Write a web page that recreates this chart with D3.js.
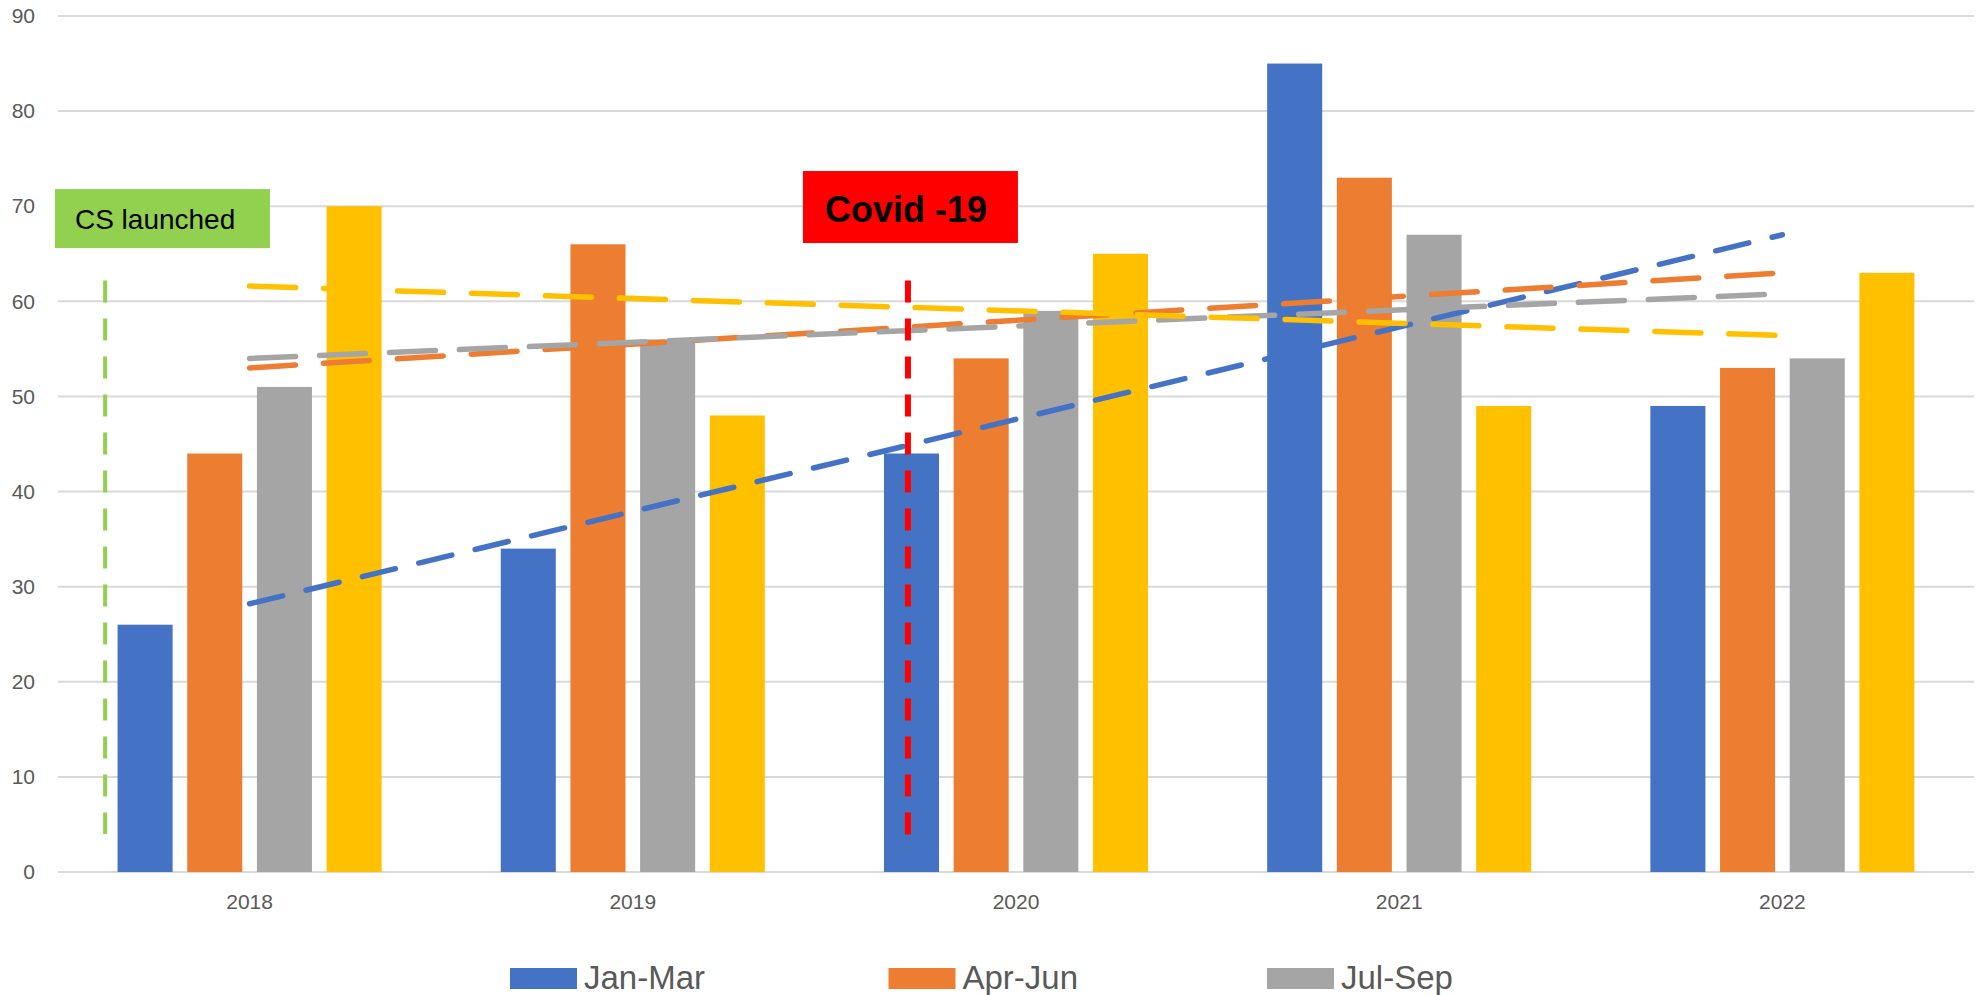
<!DOCTYPE html>
<html>
  <head>
    <meta charset="utf-8">
    <title>Quarterly chart</title>
    <script type="text/javascript" src="https://d3js.org/d3.v7.min.js"></script>
    <style>
      body { margin: 0; background: #fff; }
      text { font-family: "Liberation Sans", Arial, sans-serif; }
    </style>
  </head>

  <body>
    <script>

    var years   = ["2018", "2019", "2020", "2021", "2022"];
    var quarters = ["Jan-Mar", "Apr-Jun", "Jul-Sep", "Oct-Dec"];
    var janMar  = [26, 34, 44, 85, 49];
    var aprJun  = [44, 66, 54, 73, 53];
    var julSep  = [51, 56, 59, 67, 54];
    var octDec  = [70, 48, 65, 49, 63];
    var yTicks  = [0, 10, 20, 30, 40, 50, 60, 70, 80, 90];
    var legendLabels = ["Jan-Mar", "Apr-Jun", "Jul-Sep"];

    var colors = ["#4472c4", "#ed7d31", "#a5a5a5", "#ffc000"];
    var seriesValues = [janMar, aprJun, julSep, octDec];

    var width = 1980, height = 995;
    var plotLeft = 58, plotRight = 1974, plotTop = 16, plotBottom = 872;   // plot area

    var svg = d3.select("body").append("svg")
                .attr("width", width)
                .attr("height", height);

    var x0 = d3.scaleBand().domain(years).range([plotLeft, plotRight]).padding(0);
    var x1 = d3.scaleBand().domain(quarters)
               .range([0, x0.bandwidth()])
               .paddingInner(0.21)
               .paddingOuter(0.855);
    var y = d3.scaleLinear().domain([0, 90]).range([plotBottom, plotTop]);
    // continuous position along the categories (0 = centre of 2018)
    var xi = d3.scaleLinear().domain([0, 1])
               .range([x0(years[0]) + x0.bandwidth() / 2, x0(years[1]) + x0.bandwidth() / 2]);

    // gridlines
    svg.append("g")
       .selectAll("line")
       .data(yTicks)
       .enter().append("line")
         .attr("x1", plotLeft).attr("x2", plotRight)
         .attr("y1", function(d) { return y(d); })
         .attr("y2", function(d) { return y(d); })
         .attr("stroke", "#d9d9d9")
         .attr("stroke-width", 2);

    // y axis labels
    var yAxis = d3.axisLeft(y).tickValues(yTicks).tickSize(0).tickPadding(23);
    var gy = svg.append("g").attr("transform", "translate(" + plotLeft + ",0)").call(yAxis);
    gy.select(".domain").remove();
    gy.selectAll("text").attr("font-size", 21).attr("fill", "#595959")
      .attr("font-family", "Liberation Sans, Arial, sans-serif");

    // x axis labels
    var xAxis = d3.axisBottom(x0).tickSize(0).tickPadding(22);
    var gx = svg.append("g").attr("transform", "translate(0," + plotBottom + ")").call(xAxis);
    gx.select(".domain").remove();
    gx.selectAll("text").attr("font-size", 21).attr("fill", "#595959")
      .attr("font-family", "Liberation Sans, Arial, sans-serif");

    // bars
    var groups = svg.append("g")
       .selectAll("g")
       .data(years)
       .enter().append("g")
         .attr("transform", function(d) { return "translate(" + x0(d) + ",0)"; });

    groups.selectAll("rect")
       .data(function(d, i) { return quarters.map(function(q, k) { return {q: q, k: k, v: seriesValues[k][i]}; }); })
       .enter().append("rect")
         .attr("x", function(d) { return x1(d.q); })
         .attr("width", x1.bandwidth())
         .attr("y", function(d) { return y(d.v); })
         .attr("height", function(d) { return y(0) - y(d.v); })
         .attr("fill", function(d) { return colors[d.k]; });

    // linear trendlines (least squares over category index)
    function trend(vals) {
      var n = vals.length, mx = (n - 1) / 2, my = d3.mean(vals);
      var sxy = d3.sum(vals, function(v, i) { return (i - mx) * (v - my); });
      var sxx = d3.sum(vals, function(v, i) { return (i - mx) * (i - mx); });
      var b = sxy / sxx, a = my - b * mx;
      return [[0, a], [n - 1, a + b * (n - 1)]];
    }
    var dashes = ["34,24", "46,28", "46,24", "46,28"];
    var line = d3.line().x(function(d) { return xi(d[0]); }).y(function(d) { return y(d[1]); });

    svg.append("g")
       .selectAll("path")
       .data(seriesValues)
       .enter().append("path")
         .attr("d", function(d) { return line(trend(d)); })
         .attr("fill", "none")
         .attr("stroke", function(d, i) { return colors[i]; })
         .attr("stroke-width", 5.5)
         .attr("stroke-linecap", "round")
         .attr("stroke-dasharray", function(d, i) { return dashes[i]; });

    // event markers
    var events = [
      {label: "CS launched", at: -0.377, from: 4, to: 62.2, color: "#92d050", width: 4, bold: false,
       boxAt: -0.508, boxTop: 71.8, boxW: 215, boxH: 59, size: 28, pad: 20, base: 40},
      {label: "Covid -19", at: 1.718, from: 3.8, to: 62.2, color: "#ff0000", width: 6, bold: true,
       boxAt: 1.444, boxTop: 73.7, boxW: 215, boxH: 72, size: 36, pad: 22, base: 51}
    ];

    svg.append("g")
       .selectAll("line")
       .data(events)
       .enter().append("line")
         .attr("x1", function(d) { return xi(d.at); })
         .attr("x2", function(d) { return xi(d.at); })
         .attr("y1", function(d) { return y(d.to); })
         .attr("y2", function(d) { return y(d.from); })
         .attr("stroke", function(d) { return d.color; })
         .attr("stroke-width", function(d) { return d.width; })
         .attr("stroke-dasharray", "22,16");

    var boxes = svg.append("g")
       .selectAll("g")
       .data(events)
       .enter().append("g")
         .attr("transform", function(d) { return "translate(" + xi(d.boxAt) + "," + y(d.boxTop) + ")"; });

    boxes.append("rect")
         .attr("width", function(d) { return d.boxW; })
         .attr("height", function(d) { return d.boxH; })
         .attr("fill", function(d) { return d.color; });

    boxes.append("text")
         .attr("x", function(d) { return d.pad; })
         .attr("y", function(d) { return d.base; })
         .attr("font-size", function(d) { return d.size; })
         .attr("font-weight", function(d) { return d.bold ? "bold" : "normal"; })
         .attr("fill", "#000")
         .text(function(d) { return d.label; });

    // legend
    var legend = svg.append("g")
       .selectAll("g")
       .data(legendLabels)
       .enter().append("g")
         .attr("transform", function(d, i) { return "translate(" + (510 + i * 378.5) + ",968)"; });

    legend.append("rect")
          .attr("width", 67).attr("height", 21)
          .attr("fill", function(d, i) { return colors[i]; });

    legend.append("text")
          .attr("x", 74).attr("y", 21)
          .attr("font-size", 33)
          .attr("fill", "#595959")
          .text(function(d) { return d; });

    </script>
  </body>
</html>
